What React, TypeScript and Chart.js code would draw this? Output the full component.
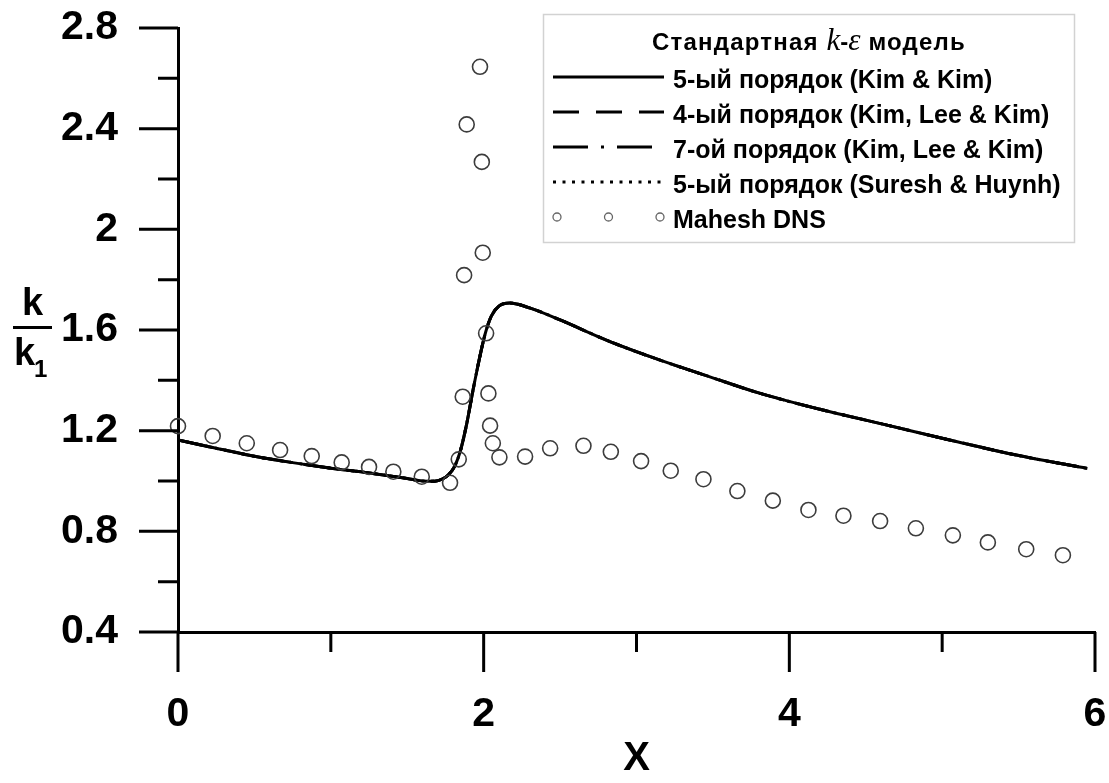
import React, { useEffect, useRef } from 'react';
import { Chart, registerables } from 'chart.js';

Chart.register(...registerables);

// k/k1 profile computed with the standard k-epsilon model
const curveX = [0, 0.25, 0.5, 0.75, 1.0, 1.25, 1.5, 1.6, 1.68, 1.73, 1.77, 1.81, 1.85, 1.89, 1.93, 1.97, 2.01, 2.05, 2.1, 2.17, 2.3, 2.5, 2.83, 3.15, 3.48, 3.81, 4.2, 4.64, 5.07, 5.51, 5.95];
const curveY = [1.163, 1.13, 1.098, 1.073, 1.051, 1.032, 1.01, 1.0, 0.999, 1.008, 1.025, 1.058, 1.125, 1.23, 1.36, 1.48, 1.585, 1.655, 1.695, 1.707, 1.688, 1.64, 1.553, 1.481, 1.414, 1.348, 1.285, 1.222, 1.16, 1.1, 1.05];

// Mahesh DNS samples
const dnsX = [0, 0.227, 0.45, 0.668, 0.875, 1.071, 1.25, 1.409, 1.595, 1.78, 1.837, 1.863, 1.872, 1.889, 1.976, 1.988, 1.994, 2.016, 2.031, 2.042, 2.06, 2.103, 2.271, 2.435, 2.653, 2.832, 3.03, 3.224, 3.438, 3.66, 3.892, 4.125, 4.354, 4.594, 4.828, 5.07, 5.299, 5.55, 5.79];
const dnsY = [1.218, 1.179, 1.15, 1.123, 1.099, 1.074, 1.056, 1.037, 1.017, 0.993, 1.086, 1.335, 1.818, 2.417, 2.646, 2.268, 1.907, 1.587, 1.348, 1.22, 1.15, 1.094, 1.097, 1.13, 1.14, 1.116, 1.079, 1.041, 1.007, 0.96, 0.922, 0.885, 0.862, 0.841, 0.812, 0.784, 0.756, 0.729, 0.705];

const xMajorTicks = [0, 2, 4, 6];
const xMinorTicks = [1, 3, 5];
const yMajorTicks = [0.4, 0.8, 1.2, 1.6, 2, 2.4, 2.8];
const yMinorTicks = [0.6, 1.0, 1.4, 1.8, 2.2, 2.6];

const seriesLabels = [
  '5-ый порядок (Kim & Kim)',
  '4-ый порядок (Kim, Lee & Kim)',
  '7-ой порядок (Kim, Lee & Kim)',
  '5-ый порядок (Suresh & Huynh)',
  'Mahesh DNS',
];

const SANS = "'Liberation Sans', Arial, Helvetica, sans-serif";
const SERIF = "'Liberation Serif', 'Times New Roman', serif";

const toPoints = (xs: number[], ys: number[]) => xs.map((x, i) => ({ x, y: ys[i] }));

// Major/minor tick marks outside the axes plus the k/k1 fraction label
const axisDecor = {
  id: 'axisDecor',
  afterDraw(chart: any) {
    const ctx = chart.ctx as CanvasRenderingContext2D;
    const xs = chart.scales.x;
    const ys = chart.scales.y;
    const { left, bottom } = chart.chartArea;
    ctx.save();
    ctx.strokeStyle = '#000';
    ctx.lineWidth = 3;
    ctx.lineCap = 'butt';
    ctx.beginPath();
    yMajorTicks.forEach((v) => {
      const p = ys.getPixelForValue(v);
      ctx.moveTo(left - 39, p);
      ctx.lineTo(left, p);
    });
    yMinorTicks.forEach((v) => {
      const p = ys.getPixelForValue(v);
      ctx.moveTo(left - 20, p);
      ctx.lineTo(left, p);
    });
    xMajorTicks.forEach((v) => {
      const p = xs.getPixelForValue(v);
      ctx.moveTo(p, bottom);
      ctx.lineTo(p, bottom + 40);
    });
    xMinorTicks.forEach((v) => {
      const p = xs.getPixelForValue(v);
      ctx.moveTo(p, bottom);
      ctx.lineTo(p, bottom + 20);
    });
    ctx.stroke();

    // y axis title: k over k1
    ctx.fillStyle = '#000';
    ctx.textBaseline = 'alphabetic';
    ctx.font = `bold 38px ${SANS}`;
    ctx.textAlign = 'center';
    ctx.fillText('k', 32.5, 315);
    ctx.beginPath();
    ctx.lineWidth = 3;
    ctx.moveTo(13, 327.5);
    ctx.lineTo(52, 327.5);
    ctx.stroke();
    ctx.textAlign = 'left';
    ctx.fillText('k', 14, 365);
    ctx.font = `bold 24px ${SANS}`;
    ctx.fillText('1', 34, 377);
    ctx.restore();
  },
};

// Boxed legend with the model title line
const legendBox = {
  id: 'legendBox',
  afterDraw(chart: any) {
    const ctx = chart.ctx as CanvasRenderingContext2D;
    ctx.save();
    const bx = 543.5, by = 14.5, bw = 531, bh = 228;
    ctx.fillStyle = '#fff';
    ctx.fillRect(bx, by, bw, bh);
    ctx.strokeStyle = '#d2d2d2';
    ctx.lineWidth = 1.5;
    ctx.strokeRect(bx, by, bw, bh);

    // title: Стандартная k-ε модель
    const parts = [
      { t: 'Стандартная ', f: `bold 24px ${SANS}`, s: '1.2px' },
      { t: 'k', f: `italic 31px ${SERIF}`, s: '0px' },
      { t: '-', f: `bold 24px ${SANS}`, s: '0px' },
      { t: 'ε', f: `italic 31px ${SERIF}`, s: '0px' },
      { t: ' модель', f: `bold 24px ${SANS}`, s: '1.2px' },
    ];
    const c = ctx as any;
    let total = 0;
    parts.forEach((p) => {
      ctx.font = p.f;
      c.letterSpacing = p.s;
      total += ctx.measureText(p.t).width;
    });
    let tx = bx + bw / 2 - total / 2;
    ctx.fillStyle = '#000';
    ctx.textAlign = 'left';
    ctx.textBaseline = 'alphabetic';
    parts.forEach((p) => {
      ctx.font = p.f;
      c.letterSpacing = p.s;
      ctx.fillText(p.t, tx, 50);
      tx += ctx.measureText(p.t).width;
    });
    c.letterSpacing = '0px';

    const datasets = chart.data.datasets;
    const x0 = 553, x1 = 664;
    datasets.forEach((ds: any, i: number) => {
      const y = 77 + 35 * i;
      if (ds.showLine === false) {
        ctx.strokeStyle = '#666';
        ctx.lineWidth = 1.3;
        [557, 608.5, 660].forEach((cx) => {
          ctx.beginPath();
          ctx.arc(cx, y, 4, 0, Math.PI * 2);
          ctx.stroke();
        });
      } else {
        ctx.strokeStyle = '#000';
        ctx.lineWidth = 3;
        ctx.setLineDash(ds.legendDash || []);
        ctx.beginPath();
        ctx.moveTo(x0, y);
        ctx.lineTo(x1, y);
        ctx.stroke();
        ctx.setLineDash([]);
      }
      ctx.fillStyle = '#000';
      ctx.font = `bold 25px ${SANS}`;
      ctx.fillText(ds.label, 673, y + 11);
    });
    ctx.restore();
  },
};

export default function App() {
  const canvasRef = useRef<HTMLCanvasElement>(null);

  useEffect(() => {
    const canvas = canvasRef.current;
    if (!canvas) return;
    Chart.defaults.font.family = SANS;
    const curve = toPoints(curveX, curveY);
    const lineBase = {
      data: curve,
      borderColor: '#000',
      borderWidth: 3,
      pointRadius: 0,
      fill: false,
      cubicInterpolationMode: 'monotone' as const,
    };
    const chart = new Chart(canvas, {
      type: 'line',
      data: {
        datasets: [
          { ...lineBase, label: seriesLabels[0], order: 1, legendDash: [] },
          { ...lineBase, label: seriesLabels[1], order: 4, borderDash: [26, 17], legendDash: [26, 17] },
          { ...lineBase, label: seriesLabels[2], order: 3, borderDash: [35, 13, 3, 13], legendDash: [35, 13, 3, 13] },
          { ...lineBase, label: seriesLabels[3], order: 2, borderDash: [3, 6.5], legendDash: [3, 6.5] },
          {
            label: seriesLabels[4],
            data: toPoints(dnsX, dnsY),
            showLine: false,
            order: 0,
            pointStyle: 'circle',
            pointRadius: 7.5,
            pointBorderWidth: 1.6,
            pointBorderColor: '#3c3c3c',
            pointBackgroundColor: 'rgba(0,0,0,0)',
            borderColor: '#3c3c3c',
            clip: false,
          } as any,
        ] as any,
      },
      options: {
        responsive: false,
        animation: false,
        devicePixelRatio: 1,
        events: [],
        layout: { padding: { top: 28, right: 14, left: 0, bottom: 0 } },
        plugins: {
          legend: { display: false },
          tooltip: { enabled: false },
          title: { display: false },
        },
        scales: {
          x: {
            type: 'linear',
            min: 0,
            max: 6,
            afterBuildTicks: (scale: any) => {
              scale.ticks = xMajorTicks.map((v) => ({ value: v }));
            },
            afterFit: (scale: any) => {
              scale.height = 151;
              scale.paddingLeft = 0;
              scale.paddingRight = 0;
            },
            grid: { display: false, drawTicks: false, tickLength: 0 },
            border: { display: true, color: '#000', width: 3 },
            ticks: {
              padding: 58,
              color: '#000',
              maxRotation: 0,
              font: { size: 41, weight: 'bold', family: SANS },
              callback: (v: any) => String(v),
            },
            title: {
              display: true,
              text: 'X',
              color: '#000',
              font: { size: 40, weight: 'bold', family: SANS },
              padding: { top: 0, bottom: 0 },
            },
          },
          y: {
            type: 'linear',
            min: 0.4,
            max: 2.8,
            afterBuildTicks: (scale: any) => {
              scale.ticks = yMajorTicks.map((v) => ({ value: v }));
            },
            afterFit: (scale: any) => {
              scale.width = 178;
              scale.paddingTop = 0;
              scale.paddingBottom = 0;
            },
            grid: { display: false, drawTicks: false, tickLength: 0 },
            border: { display: true, color: '#000', width: 3 },
            ticks: {
              padding: 60,
              color: '#000',
              font: { size: 41, weight: 'bold', family: SANS },
              callback: (v: any) => String(Math.round(Number(v) * 10) / 10),
            },
          },
        },
      } as any,
      plugins: [axisDecor, legendBox],
    });
    return () => chart.destroy();
  }, []);

  return (
    <div style={{ position: 'absolute', left: 0, top: 0, width: 1109, height: 783, background: '#fff' }}>
      <canvas ref={canvasRef} width={1109} height={783} style={{ display: 'block' }} />
    </div>
  );
}
